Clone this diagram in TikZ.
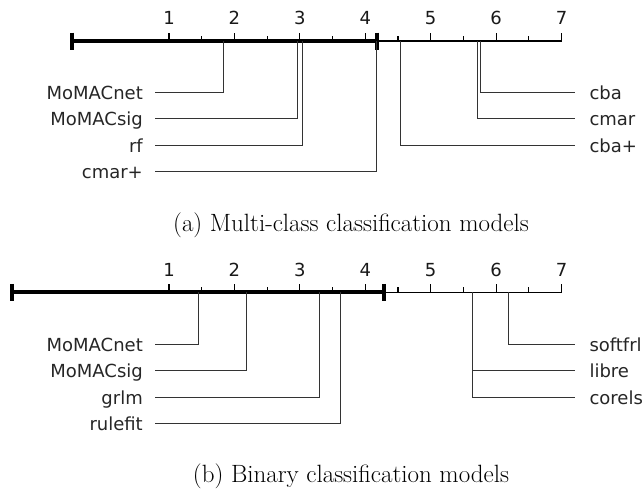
\documentclass[tikz,border=0pt]{standalone}
\usepackage{fontspec}
\newfontfamily\lblfont{DejaVu Sans}
\begin{document}
\begin{tikzpicture}[x=1pt,y=-1pt,
  lbl/.style={font=\lblfont\fontsize{18}{20}\selectfont, inner sep=0pt, text=black!85, text height=13pt, text depth=0pt},
  ticklbl/.style={font=\lblfont\fontsize{18}{20}\selectfont, inner sep=0pt, text=black!90, anchor=base},
  majtick/.style={line width=1.1pt, black},
  axisline/.style={line width=1.2pt, black},
  cdbar/.style={line width=4pt, black},
  barend/.style={line width=4pt, black},
  conn/.style={line width=1.3pt, black!80},
  captxt/.style={font=\fontsize{25}{28}\selectfont, inner sep=0pt}
]
\useasboundingbox (0,0) rectangle (643,491);

% ---------------- (a) ----------------
\coordinate (aL) at (71.7,41);
\coordinate (aR) at (561.7,41);
\draw[axisline] (aL) -- (aR);
\foreach \i in {1,...,7}{
  \coordinate (at\i) at ({169+(\i-1)*65.42},41);
  \draw[majtick] (at\i) -- ++(0,-8);
  \node[ticklbl] (atl\i) at ({169+(\i-1)*65.42},24) {\i};
}
\foreach \i in {1,...,6}{
  \coordinate (am\i) at ({169+(\i-0.5)*65.42},41);
  \draw[majtick] (am\i) -- ++(0,-5);
}
\coordinate (ab1) at (71.7,41);
\coordinate (ab2) at (376.7,41);
\draw[cdbar] (ab1) -- (ab2);
\draw[barend] ([yshift=8.5pt]ab1) -- ([yshift=-8.5pt]ab1);
\draw[barend] ([yshift=8.5pt]ab2) -- ([yshift=-8.5pt]ab2);

% left methods
\node[lbl, anchor=east] (a1) at (143,92.5) {MoMACnet};
\node[lbl, anchor=east] (a2) at (143,118.5) {MoMACsig};
\node[lbl, anchor=east] (a3) at (143,145.5) {rf};
\node[lbl, anchor=east] (a4) at (143,171.5) {cmar+};
\coordinate (av1) at (223.5,41);
\coordinate (av2) at (297.5,41);
\coordinate (av3) at (302.5,41);
\coordinate (av4) at (376.7,41);
\draw[conn] (av1) |- ([xshift=12pt]a1.east);
\draw[conn] (av2) |- ([xshift=12pt]a2.east);
\draw[conn] (av3) |- ([xshift=12pt]a3.east);
\draw[conn] (av4) |- ([xshift=12pt]a4.east);
% right methods
\node[lbl, anchor=west] (a5) at (589.3,92.5) {cba};
\node[lbl, anchor=west] (a6) at (589.3,118.5) {cmar};
\node[lbl, anchor=west] (a7) at (589.3,145.5) {cba+};
\coordinate (av5) at (480.5,41);
\coordinate (av6) at (477.5,41);
\coordinate (av7) at (400.5,41);
\draw[conn] (av5) |- ([xshift=-14.3pt]a5.west);
\draw[conn] (av6) |- ([xshift=-14.3pt]a6.west);
\draw[conn] (av7) |- ([xshift=-14.3pt]a7.west);

\node[captxt] (capa) at (351,225) {(a) Multi-class classification models};

% ---------------- (b) ----------------
\coordinate (bL) at (11.7,292.3);
\coordinate (bR) at (561.7,292.3);
\draw[axisline] (bL) -- (bR);
\foreach \i in {1,...,7}{
  \coordinate (bt\i) at ({169+(\i-1)*65.42},292.3);
  \draw[majtick] (bt\i) -- ++(0,-8);
  \node[ticklbl] (btl\i) at ({169+(\i-1)*65.42},276) {\i};
}
\foreach \i in {1,...,6}{
  \coordinate (bm\i) at ({169+(\i-0.5)*65.42},292.3);
  \draw[majtick] (bm\i) -- ++(0,-5);
}
\coordinate (bb1) at (11.7,292.3);
\coordinate (bb2) at (384.3,292.3);
\draw[cdbar] (bb1) -- (bb2);
\draw[barend] ([yshift=8.5pt]bb1) -- ([yshift=-8.5pt]bb1);
\draw[barend] ([yshift=8.5pt]bb2) -- ([yshift=-8.5pt]bb2);

\node[lbl, anchor=east] (b1) at (143,344.5) {MoMACnet};
\node[lbl, anchor=east] (b2) at (143,370.5) {MoMACsig};
\node[lbl, anchor=east] (b3) at (143,397.5) {grlm};
\node[lbl, anchor=east] (b4) at (143,423.5) {rulefit};
\coordinate (bv1) at (198.5,292.3);
\coordinate (bv2) at (246.5,292.3);
\coordinate (bv3) at (319.5,292.3);
\coordinate (bv4) at (340.5,292.3);
\draw[conn] (bv1) |- ([xshift=12pt]b1.east);
\draw[conn] (bv2) |- ([xshift=12pt]b2.east);
\draw[conn] (bv3) |- ([xshift=12pt]b3.east);
\draw[conn] (bv4) |- ([xshift=12pt]b4.east);

\node[lbl, anchor=west] (b5) at (589.3,344.5) {softfrl};
\node[lbl, anchor=west] (b6) at (589.3,370.5) {libre};
\node[lbl, anchor=west] (b7) at (589.3,397.5) {corels};
\coordinate (bv5) at (508.5,292.3);
\coordinate (bv6) at (472.5,292.3);
\coordinate (bv7) at (472.5,292.3);
\draw[conn] (bv5) |- ([xshift=-14.3pt]b5.west);
\draw[conn] (bv6) |- ([xshift=-14.3pt]b6.west);
\draw[conn] (bv7) |- ([xshift=-14.3pt]b7.west);

\node[captxt] (capb) at (351,476) {(b) Binary classification models};
\end{tikzpicture}
\end{document}
